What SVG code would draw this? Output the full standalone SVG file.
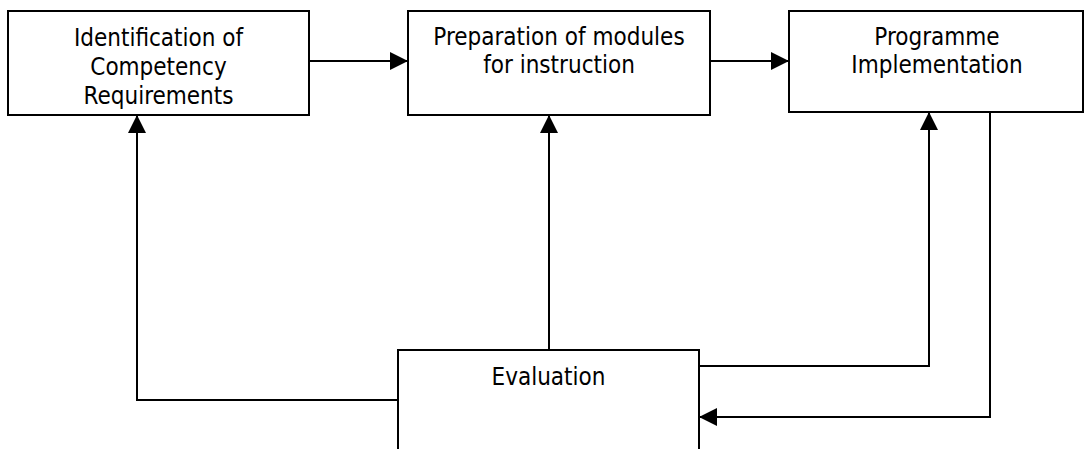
<svg xmlns="http://www.w3.org/2000/svg" width="1084" height="449" viewBox="0 0 1084 449">
<style>
.box{fill:#fff;stroke:#000;stroke-width:2}
.t{font-family:"DejaVu Sans Condensed","DejaVu Sans",Verdana,sans-serif;font-stretch:condensed;font-size:24px;fill:#000;text-anchor:middle}
.c{fill:none;stroke:#000;stroke-width:2}
</style>
<defs>
<marker id="ah" markerUnits="userSpaceOnUse" markerWidth="19" markerHeight="19" refX="18" refY="9" orient="auto">
<path d="M0,0 L18,9 L0,18 z" fill="#000"/>
</marker>
</defs>
<rect width="1084" height="449" fill="#fff"/>
<g id="n1">
<rect class="box" x="8" y="11" width="301" height="104"/>
<text class="t" x="158.5" y="46">Identification of</text>
<text class="t" x="158.5" y="75">Competency</text>
<text class="t" x="158.5" y="104">Requirements</text>
</g>
<g id="n2">
<rect class="box" x="408" y="11" width="302" height="104"/>
<text class="t" x="559" y="45">Preparation of modules</text>
<text class="t" x="559" y="73">for instruction</text>
</g>
<g id="n3">
<rect class="box" x="789" y="11" width="294" height="101"/>
<text class="t" x="937" y="45">Programme</text>
<text class="t" x="937" y="73">Implementation</text>
</g>
<g id="n4">
<rect x="398" y="350" width="301" height="100" fill="#fff"/>
<path class="c" d="M398,450 V350 H699 V450"/>
<text class="t" x="548.5" y="385">Evaluation</text>
</g>
<g id="connectors">
<path class="c" d="M309,61 H408" marker-end="url(#ah)"/>
<path class="c" d="M710,61 H789" marker-end="url(#ah)"/>
<path class="c" d="M398,400 H137 V115" marker-end="url(#ah)"/>
<path class="c" d="M549,350 V115" marker-end="url(#ah)"/>
<path class="c" d="M699,366 H929 V112" marker-end="url(#ah)"/>
<path class="c" d="M990,112 V417 H699" marker-end="url(#ah)"/>
</g>
</svg>
